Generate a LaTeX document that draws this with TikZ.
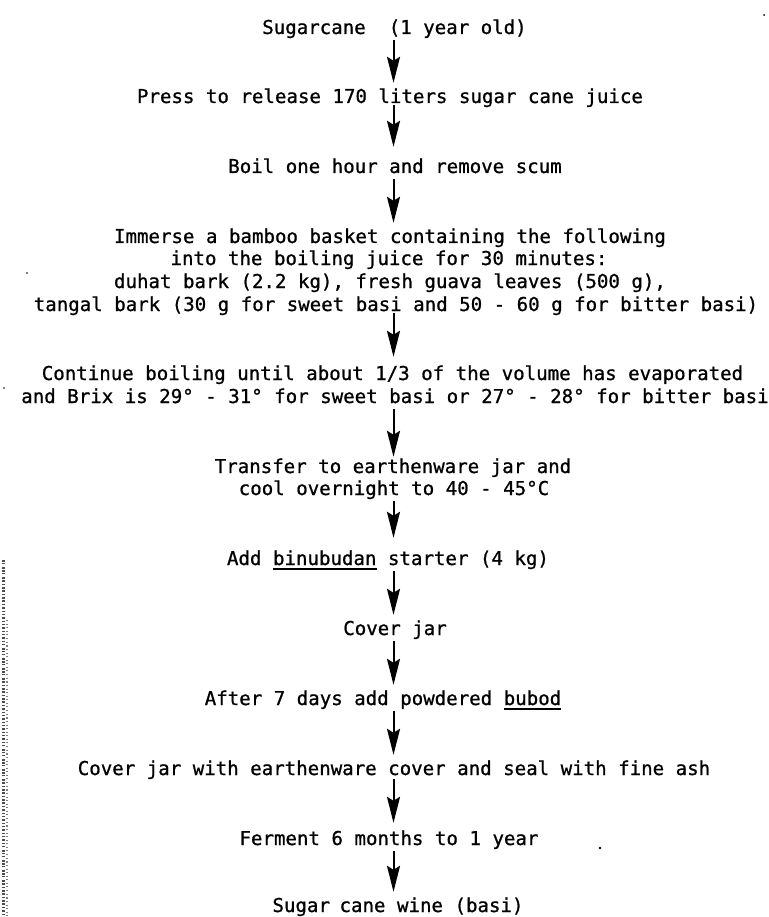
\documentclass[tikz,border=0pt]{standalone}
\usepackage{fontspec}
\usetikzlibrary{arrows.meta}
\newfontfamily\twfont[FakeBold=0.9]{DejaVu Sans Mono}
\newcommand{\ulword}[1]{\setbox0\hbox{#1}\rlap{\rule[-4.5pt]{\wd0}{1.3pt}}\box0\relax}
\tikzset{
  lbl/.style={font={\twfont\fontsize{19.1pt}{23pt}\selectfont}, anchor=base,
    inner xsep=0pt, inner ysep=4pt, text height=16pt, text depth=2pt},
  flow/.style={-{Stealth[length=26pt,width=13pt,inset=4pt]}, line width=2pt},
}
\begin{document}
\begin{tikzpicture}[x=1pt,y=-1pt]
\useasboundingbox (0,0) rectangle (768,917);
\coordinate (axis) at (393.5,0);
\node[lbl] (n1)  at (394.5,34)  {Sugarcane\ \ (1 year old)};
\node[lbl] (n2)  at (390,103)   {Press to release 170 liters sugar cane juice};
\node[lbl] (n3)  at (395,173)   {Boil one hour and remove scum};
\node[lbl] (n4a) at (390,243)   {Immerse a bamboo basket containing the following};
\node[lbl] (n4b) at (389,265)   {into the boiling juice for 30 minutes:};
\node[lbl] (n4c) at (390,288)   {duhat bark (2.2 kg), fresh guava leaves (500 g),};
\node[lbl] (n4d) at (396,311)   {tangal bark (30 g for sweet basi and 50 - 60 g for bitter basi)};
\node[lbl] (n5a) at (392.5,380) {Continue boiling until about 1/3 of the volume has evaporated};
\node[lbl] (n5b) at (395,403)   {and Brix is 29° - 31° for sweet basi or 27° - 28° for bitter basi};
\node[lbl] (n6a) at (393,473)   {Transfer to earthenware jar and};
\node[lbl] (n6b) at (394,495)   {cool overnight to 40 - 45°C};
\node[lbl] (n7)  at (388,565)   {Add \ulword{binubudan} starter (4 kg)};
\node[lbl] (n8)  at (395,635)   {Cover jar};
\node[lbl] (n9)  at (383,705)   {After 7 days add powdered \ulword{bubod}};
\node[lbl] (n10) at (394,775)   {Cover jar with earthenware cover and seal with fine ash};
\node[lbl] (n11) at (389,845)   {Ferment 6 months to 1 year};
\node[lbl] (n12) at (398,912)   {Sugar\hspace{0.5em}cane\ wine (basi)};
\draw[flow] (n1.south -| axis) -- (n2.north -| axis);
\draw[flow, shorten <=-4pt, shorten >=6pt] (n2.south -| axis) -- (n3.north -| axis);
\draw[flow] (n3.south -| axis) -- (n4a.north -| axis);
\draw[flow, shorten <=-4pt, shorten >=3pt] (n4d.south -| axis) -- (n5a.north -| axis);
\draw[flow, shorten >=-4pt] (n5b.south -| axis) -- (n6a.north -| axis);
\draw[flow, shorten >=7pt] (n6b.south -| axis) -- (n7.north -| axis);
\draw[flow] (n7.south -| axis) -- (n8.north -| axis);
\draw[flow] (n8.south -| axis) -- (n9.north -| axis);
\draw[flow] (n9.south -| axis) -- (n10.north -| axis);
\draw[flow, shorten <=-2pt, shorten >=2pt] (n10.south -| axis) -- (n11.north -| axis);
\draw[flow] (n11.south -| axis) -- (n12.north -| axis);
% scan specks
\fill (600,848) circle (1.3pt);
\fill (764,15) circle (1pt);
\fill (27,273) circle (0.8pt);
\fill (4,388) circle (0.8pt);
\draw[black!70, line width=2.5pt, dash pattern=on 1.5pt off 1.8pt on 0.8pt off 2.6pt on 2pt off 1.4pt] (3.5,560) -- (3.5,917);
\draw[black!50, line width=1.5pt, dash pattern=on 0.8pt off 3pt on 1.2pt off 2.2pt] (7,620) -- (7,917);
\end{tikzpicture}
\end{document}
